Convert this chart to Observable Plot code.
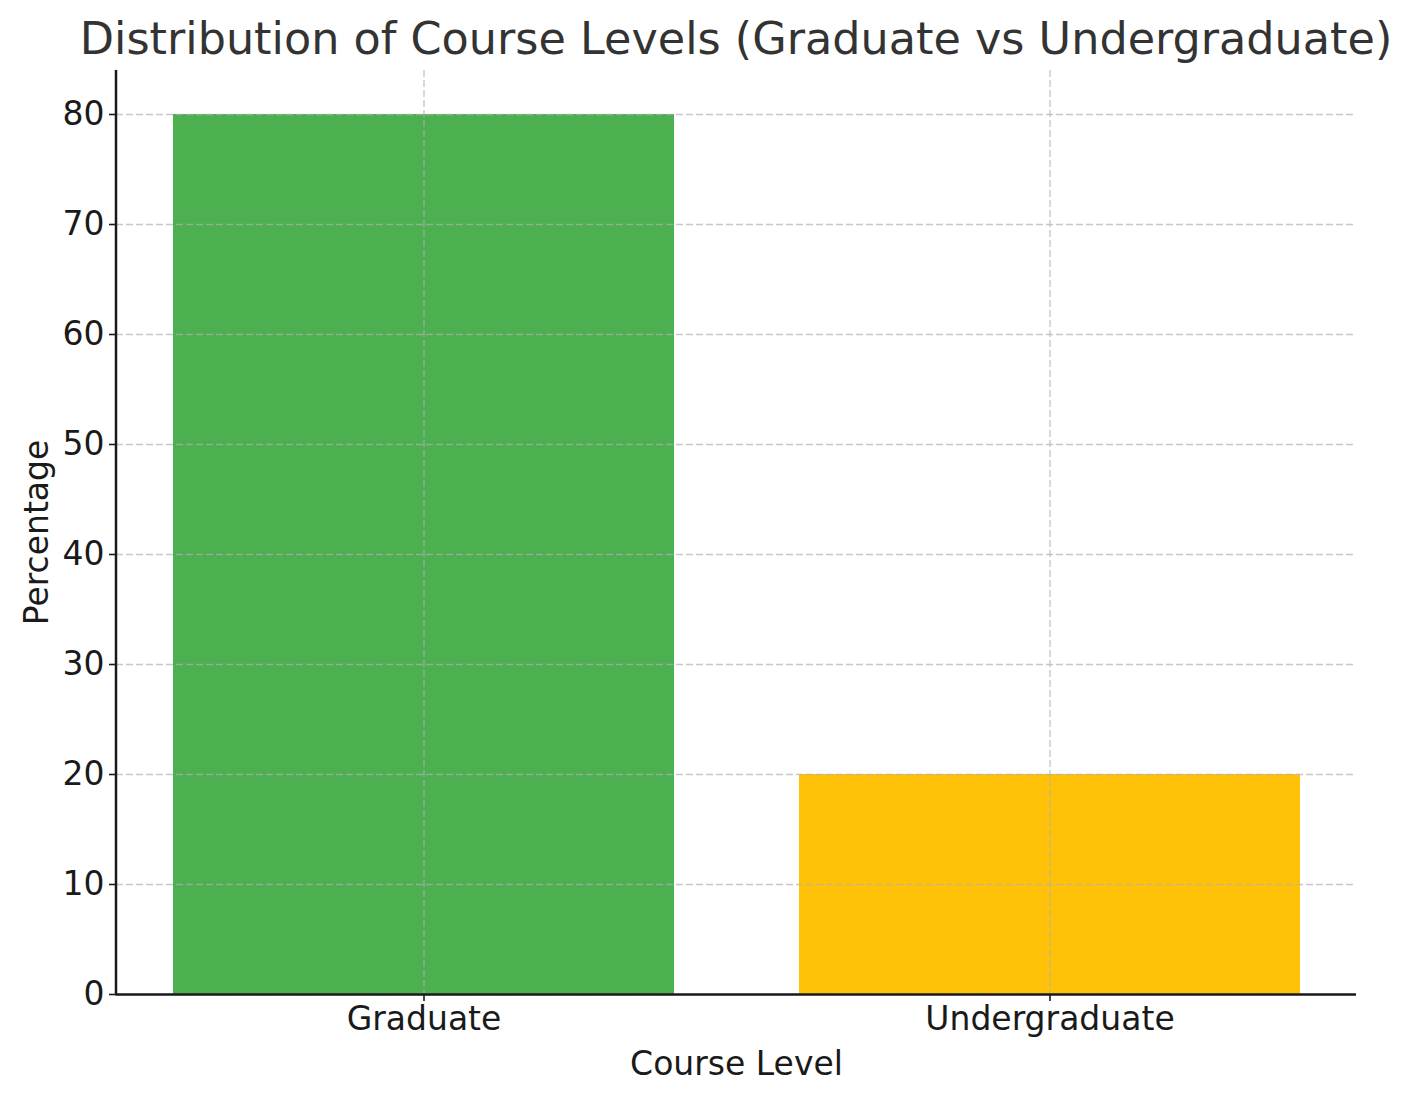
<!DOCTYPE html>
<html><head><meta charset="utf-8">
<script src="https://cdn.jsdelivr.net/npm/d3@7"></script>
<script src="https://cdn.jsdelivr.net/npm/@observablehq/plot@0.6"></script>
<style>
body{margin:0;background:#fff;font-family:"DejaVu Sans",sans-serif;}
#title{box-sizing:border-box;width:1412px;height:70px;padding-left:60px;padding-top:17px;text-align:center;font-size:44.5px;line-height:44px;color:#333;white-space:nowrap;}
#chart svg{display:block;}
</style></head>
<body>
<div id="title">Distribution of Course Levels (Graduate vs Undergraduate)</div>
<div id="chart"></div>
<script>
const categories = ["Graduate", "Undergraduate"];
const percentages = [80, 20];
const colors = ["#4CAF50", "#FFC107"];
const yTicks = [0, 10, 20, 30, 40, 50, 60, 70, 80];

const data = categories.map((c, i) => ({category: c, value: percentages[i], color: colors[i]}));

const spineLeft = (index, scales, values, dimensions) => {
  const {marginLeft, marginTop, height, marginBottom} = dimensions;
  const l = document.createElementNS("http://www.w3.org/2000/svg", "line");
  l.setAttribute("x1", marginLeft); l.setAttribute("x2", marginLeft);
  l.setAttribute("y1", marginTop); l.setAttribute("y2", height - marginBottom + 1.2);
  l.setAttribute("stroke", "#1a1a1a"); l.setAttribute("stroke-width", 2.5);
  return l;
};

const chart = Plot.plot({
  width: 1412,
  height: 1031,
  marginLeft: 116,
  marginRight: 56,
  marginTop: 0,
  marginBottom: 107,
  style: {fontFamily: "DejaVu Sans, sans-serif", fontSize: "35.5px", color: "#1a1a1a", background: "#fff"},
  x: {domain: categories, paddingInner: 0.2, paddingOuter: 0.09},
  y: {domain: [0, 84]},
  marks: [
    Plot.barY(data, {x: "category", y: "value", fill: "color"}),
    Plot.gridY(yTicks, {stroke: "#b0b0b0", strokeOpacity: 0.7, strokeWidth: 1.4, strokeDasharray: "7,3"}),
    Plot.gridX(categories, {stroke: "#b0b0b0", strokeOpacity: 0.7, strokeWidth: 1.4, strokeDasharray: "7,3"}),
    Plot.axisY(yTicks, {tickSize: 7, tickPadding: 5, tickFormat: d => d, strokeWidth: 1.6, fontSize: 33, label: "Percentage", labelAnchor: "center", labelArrow: "none", labelOffset: 92, fill: "#1a1a1a"}),
    Plot.axisX({tickSize: 7, tickPadding: 5, strokeWidth: 1.6, fontSize: 33, label: "Course Level", labelAnchor: "center", labelArrow: "none", labelOffset: 80, fill: "#1a1a1a"}),
    Plot.ruleY([0], {stroke: "#1a1a1a", strokeWidth: 2.5}),
    spineLeft
  ]
});
document.getElementById("chart").appendChild(chart);
</script>
</body></html>
